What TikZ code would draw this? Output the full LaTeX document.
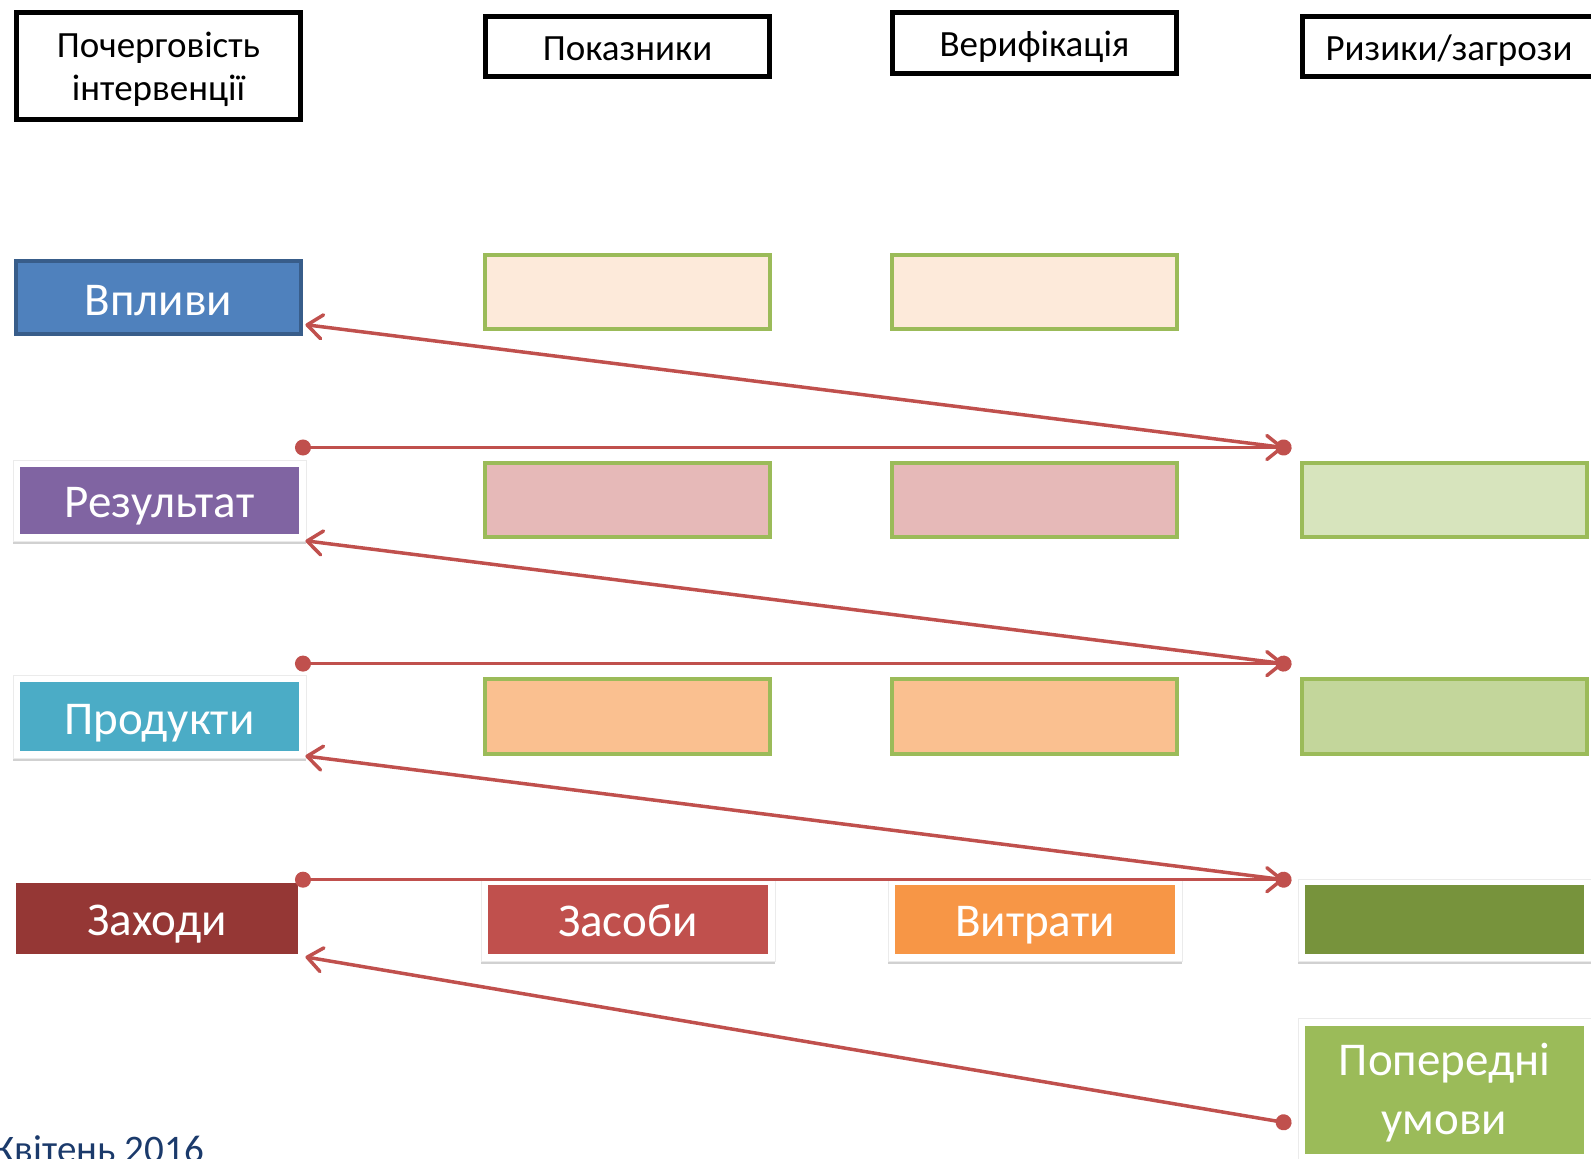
\documentclass[tikz,border=0pt]{standalone}
\usepackage{fontspec}
\setmainfont{Carlito}
\usetikzlibrary{arrows.meta,shadows}
\definecolor{cblue}{HTML}{4F81BD}
\definecolor{cbluedk}{HTML}{385D8A}
\definecolor{cgreen}{HTML}{9BBB59}
\definecolor{cpeach}{HTML}{FDEADA}
\definecolor{cpink}{HTML}{E6B9B8}
\definecolor{corlight}{HTML}{FAC090}
\definecolor{cgrlight}{HTML}{D7E4BD}
\definecolor{cgrmid}{HTML}{C3D69B}
\definecolor{cpurple}{HTML}{8064A2}
\definecolor{ccyan}{HTML}{4BACC6}
\definecolor{cdkred}{HTML}{953735}
\definecolor{cred}{HTML}{C0504D}
\definecolor{corange}{HTML}{F79646}
\definecolor{colive}{HTML}{77933C}
\definecolor{cnavy}{HTML}{1B3A6B}
\tikzset{
  hdr/.style={draw=black, line width=4.8pt, fill=white, inner sep=0pt, align=center,
    minimum width=284pt, font=\fontsize{37}{43}\selectfont},
  hdrline/.style={text height=29.6pt, text depth=1.8pt},
  oneline/.style={text height=37.6pt, text depth=2.3pt},
  cell/.style={draw=cgreen, line width=4pt, inner sep=0pt, minimum width=285pt, minimum height=74pt},
  framebox/.style={fill=white, draw=black!8, line width=0.6pt, inner sep=0pt,
    drop shadow={shadow xshift=0pt, shadow yshift=-3.5pt, opacity=0.3, fill=black!60}},
  lbl/.style={text=white, inner sep=0pt, align=center, font=\fontsize{47}{59}\selectfont},
  conn/.style={draw=cred, line width=3.5pt, shorten <=-8pt,
    {Circle[length=16pt]}-{Straight Barb[length=15pt,width=24pt,line cap=round,line join=round]}}
}
\begin{document}
\begin{tikzpicture}[x=1pt,y=-1pt]
\useasboundingbox (0,0) rectangle (1591,1159);
% headers
\node[hdr, minimum height=107pt] (h1) at (158.5,66) {};
\node[inner sep=0pt, align=center, font=\fontsize{37}{43}\selectfont] (h1t) at (158.5,69) {Почерговість\\інтервенції};
\node[hdr, hdrline, minimum height=60pt] (h2) at (627.5,46.5) {Показники};
\node[hdr, hdrline, minimum height=61pt] (h3) at (1034.5,43) {Верифікація};
\node[hdr, hdrline, minimum height=60pt, minimum width=293pt] (h4) at (1449,46.5) {Ризики/загрози};
% row 1
\node[lbl, oneline, fill=cblue, draw=cbluedk, line width=4pt, minimum width=285pt, minimum height=73pt] (vplyvy) at (158.5,297.5) {Впливи};
\node[cell, fill=cpeach] (p1) at (627.5,292) {};
\node[cell, fill=cpeach] (v1) at (1034.5,292) {};
% row 2
\node[framebox, minimum width=293pt, minimum height=81pt] (frez) at (159.5,500.3) {};
\node[lbl, oneline, fill=cpurple, minimum width=279pt, minimum height=67pt] (rez) at (159.5,500.3) {Результат};
\node[cell, fill=cpink] (p2) at (627.5,499.7) {};
\node[cell, fill=cpink] (v2) at (1034.5,499.7) {};
\node[cell, fill=cgrlight] (r2) at (1444.5,499.7) {};
% row 3
\node[framebox, minimum width=293pt, minimum height=83pt] (fprod) at (159.5,716.4) {};
\node[lbl, oneline, fill=ccyan, minimum width=279pt, minimum height=69pt] (prod) at (159.5,716.4) {Продукти};
\node[cell, fill=corlight, minimum height=75pt] (p3) at (627.5,716.4) {};
\node[cell, fill=corlight, minimum height=75pt] (v3) at (1034.5,716.4) {};
\node[cell, fill=cgrmid, minimum height=75pt] (r3) at (1444.5,716.4) {};
% row 4
\node[lbl, oneline, fill=cdkred, minimum width=282pt, minimum height=71pt] (zakhody) at (157.3,918.3) {Заходи};
\node[framebox, minimum width=294pt, minimum height=82pt] (fzas) at (628,919.8) {};
\node[lbl, oneline, fill=cred, minimum width=280pt, minimum height=69pt] (zasoby) at (628,919.3) {Засоби};
\node[framebox, minimum width=294pt, minimum height=82pt] (fvyt) at (1035,919.8) {};
\node[lbl, oneline, fill=corange, minimum width=280pt, minimum height=69pt] (vytraty) at (1035,919.3) {Витрати};
\node[framebox, minimum width=293pt, minimum height=82pt] (fr4) at (1444.5,919.8) {};
\node[lbl, fill=colive, minimum width=279pt, minimum height=69pt] (r4) at (1444.5,919.3) {};
% row 5
\node[framebox, minimum width=293pt, minimum height=142pt] (fum) at (1444.5,1089.7) {};
\node[lbl, fill=cgreen, minimum width=279pt, minimum height=128pt] (umovy) at (1444.5,1089.7) {};
\node[lbl] (umovyt) at (1444.5,1093) {Попередні\\умови};
% footer
\node[anchor=base east, inner sep=0pt, text=cnavy, font=\fontsize{39}{44}\selectfont] (date) at (204,1162) {Квітень 2016};
% connector points
\coordinate (a1) at (303,447.5);
\coordinate (b1) at (1283.6,447.5);
\coordinate (a2) at (303,663.6);
\coordinate (b2) at (1283.6,663.6);
\coordinate (a3) at (303,879.7);
\coordinate (b3) at (1283.6,879.7);
\coordinate (b4) at (1283.6,1122.3);
\coordinate (t1) at (305.4,324.7);
\coordinate (t2) at (305.4,540.8);
\coordinate (t3) at (305.4,756);
\coordinate (t4) at (305.4,956.9);
\draw[conn] (a1) -- (b1);
\draw[conn] (b1) -- (t1);
\draw[conn] (a2) -- (b2);
\draw[conn] (b2) -- (t2);
\draw[conn] (a3) -- (b3);
\draw[conn] (b3) -- (t3);
\draw[conn] (b4) -- (t4);
\end{tikzpicture}
\end{document}
